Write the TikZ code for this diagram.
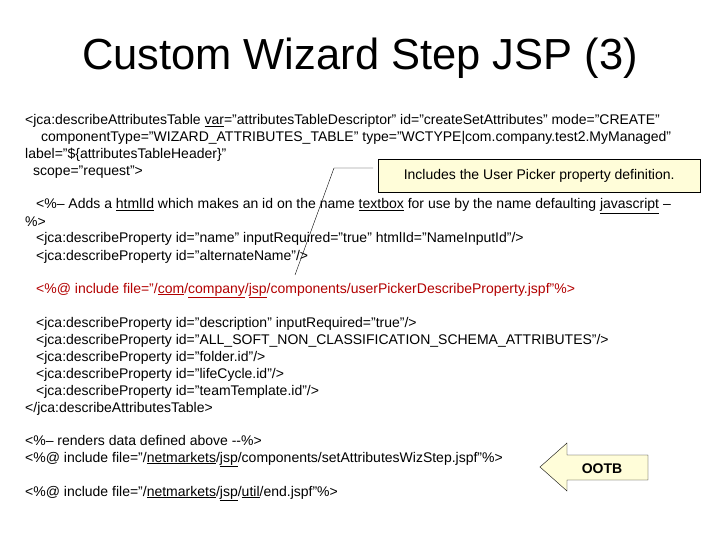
\documentclass[tikz,border=0pt]{standalone}
\usepackage{fontspec}
\setmainfont{Liberation Sans}
\begin{document}
\begin{tikzpicture}[x=1pt,y=-1pt,
  code/.style={anchor=base west,inner sep=0pt,font=\fontsize{14}{16}\selectfont},
  redcode/.style={code,text=red!70!black}]
\useasboundingbox (0,0) rectangle (720,540);
\node[anchor=base,font=\fontsize{43.5}{48}\selectfont] (title) at (360,70) {Custom Wizard Step JSP (3)};
\node[code] (l1) at (25,125) {<jca:describeAttributesTable \underline{var}="attributesTableDescriptor" id="createSetAttributes" mode="CREATE"};
\node[code] (l2) at (41,142) {componentType="WIZARD\_ATTRIBUTES\_TABLE" type="WCTYPE|com.company.test2.MyManaged"};
\node[code] (l3) at (25,159) {label="\$\{attributesTableHeader\}"};
\node[code] (l4) at (33,176) {scope="request">};
\node[code] (l5) at (36,209) {<\%-- Adds a \underline{htmlId} which makes an id on the name \underline{textbox} for use by the name defaulting \underline{javascript} –};
\node[code] (l6) at (25,226) {\%>};
\node[code] (l7) at (36,243) {<jca:describeProperty id="name" inputRequired="true" htmlId="NameInputId"/>};
\node[code] (l8) at (36,260) {<jca:describeProperty id="alternateName"/>};
\node[redcode] (l9) at (36,293) {<\%@ include file="/\underline{com}/\underline{company}/\underline{jsp}/components/userPickerDescribeProperty.jspf"\%>};
\node[code] (l10) at (36,327) {<jca:describeProperty id="description" inputRequired="true"/>};
\node[code] (l11) at (36,344) {<jca:describeProperty id="ALL\_SOFT\_NON\_CLASSIFICATION\_SCHEMA\_ATTRIBUTES"/>};
\node[code] (l12) at (36,361) {<jca:describeProperty id="folder.id"/>};
\node[code] (l13) at (36,378) {<jca:describeProperty id="lifeCycle.id"/>};
\node[code] (l14) at (36,395) {<jca:describeProperty id="teamTemplate.id"/>};
\node[code] (l15) at (25,412) {</jca:describeAttributesTable>};
\node[code] (l16) at (25,445) {<\%-- renders data defined above -{}-\%>};
\node[code] (l17) at (25,462) {<\%@ include file="/\underline{netmarkets}/\underline{jsp}/components/setAttributesWizStep.jspf"\%>};
\node[code] (l18) at (25,496) {<\%@ include file="/\underline{netmarkets}/\underline{jsp}/\underline{util}/end.jspf"\%>};
% callout
\node[draw,fill=yellow!15,minimum width=322,minimum height=33,inner sep=0pt,anchor=north west,font=\fontsize{14}{16}\selectfont] (call) at (378,159) {Includes the User Picker property definition.};
\coordinate (bend) at (334,168);
\coordinate (tip) at (295,275);
\draw (call.west |- bend) ++(-5,0) coordinate (cs) -- (bend) -- (tip);
% OOTB arrow
\draw[fill=yellow!15] (540,467) -- (567,443) -- (567,455) -- (648,455) -- (648,480) -- (567,480) -- (567,491) -- cycle;
\node[font=\bfseries\fontsize{14}{16}\selectfont] (ootb) at (602,469) {OOTB};
\end{tikzpicture}
\end{document}
